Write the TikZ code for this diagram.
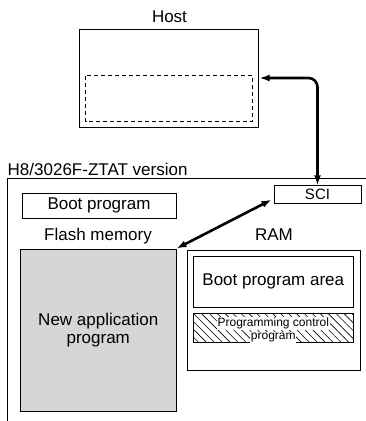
\documentclass[tikz,border=0pt]{standalone}
\usepackage{fontspec}
\setmainfont{Liberation Sans}
\usetikzlibrary{arrows.meta,patterns.meta}
\begin{document}
\begin{tikzpicture}[x=1pt,y=-1pt,
  lbl/.style={font=\fontsize{17}{19}\selectfont, inner sep=0pt},
  box/.style={draw=black, line width=0.9pt},
  thickarrow/.style={line width=2.6pt, {Latex[length=10pt,width=7pt]}-{Latex[length=10pt,width=7pt]}},
  small/.style={font=\fontsize{12}{13}\selectfont, fill=white, inner sep=0.8pt}
]
\useasboundingbox (0,0) rectangle (366,421);
% Host
\node[lbl, anchor=base] (hostlbl) at (169.5,22.5) {Host};
\draw[box] (79.5,29.5) rectangle (258.5,127.5);
\coordinate (hostport) at (259.5,78);
\draw[black, line width=0.8pt, dash pattern=on 4pt off 3pt] (85.5,75.5) rectangle (252.5,121);
% chip
\node[lbl, anchor=base west] (chiplbl) at (7.5,175) {H8/3026F-ZTAT version};
\draw[black, line width=1.1pt] (366,178.5) -- (7.5,178.5) -- (7.5,421);
% SCI
\node[box, minimum width=87pt, minimum height=17.5pt, inner sep=0pt, font=\fontsize{15}{17}\selectfont] (sci) at (317.5,194.5) {SCI};
% Boot program
\node[box, minimum width=154pt, minimum height=25pt, inner sep=0pt, font=\fontsize{17}{19}\selectfont] (boot) at (99,205.5) {Boot program};
% labels
\node[lbl, anchor=base] (flashlbl) at (98,240) {Flash memory};
\node[lbl, anchor=base] (ramlbl) at (274,240) {RAM};
% flash box
\node[box, fill={rgb,255:red,214;green,214;blue,214}, minimum width=155.5pt, minimum height=162pt, inner sep=0pt, align=center, font=\fontsize{17}{18}\selectfont] (flash) at (98.25,330) {New application\\program};
% RAM
\draw[box] (187.5,250.5) rectangle (360.5,370);
\node[box, minimum width=160pt, minimum height=51pt, inner sep=0pt, font=\fontsize{17}{19}\selectfont] (bpa) at (273.3,281.5) {Boot program area};
\node[box, minimum width=160pt, minimum height=29.5pt, inner sep=0pt,
  pattern={Lines[angle=-45,distance=5.6pt,line width=0.6pt]}] (pcp) at (273.3,328) {};
\node[small, anchor=base] (pcp1) at (273.3,326.5) {Programming control};
\node[small, anchor=base] (pcp2) at (273.3,339.5) {program};
% arrows
\draw[thickarrow, rounded corners=9pt] (sci.north) -- (sci.north |- hostport) -- (hostport);
\draw[thickarrow] (flash.north east) -- ([xshift=-2pt,yshift=4pt]sci.south west);
\end{tikzpicture}
\end{document}
